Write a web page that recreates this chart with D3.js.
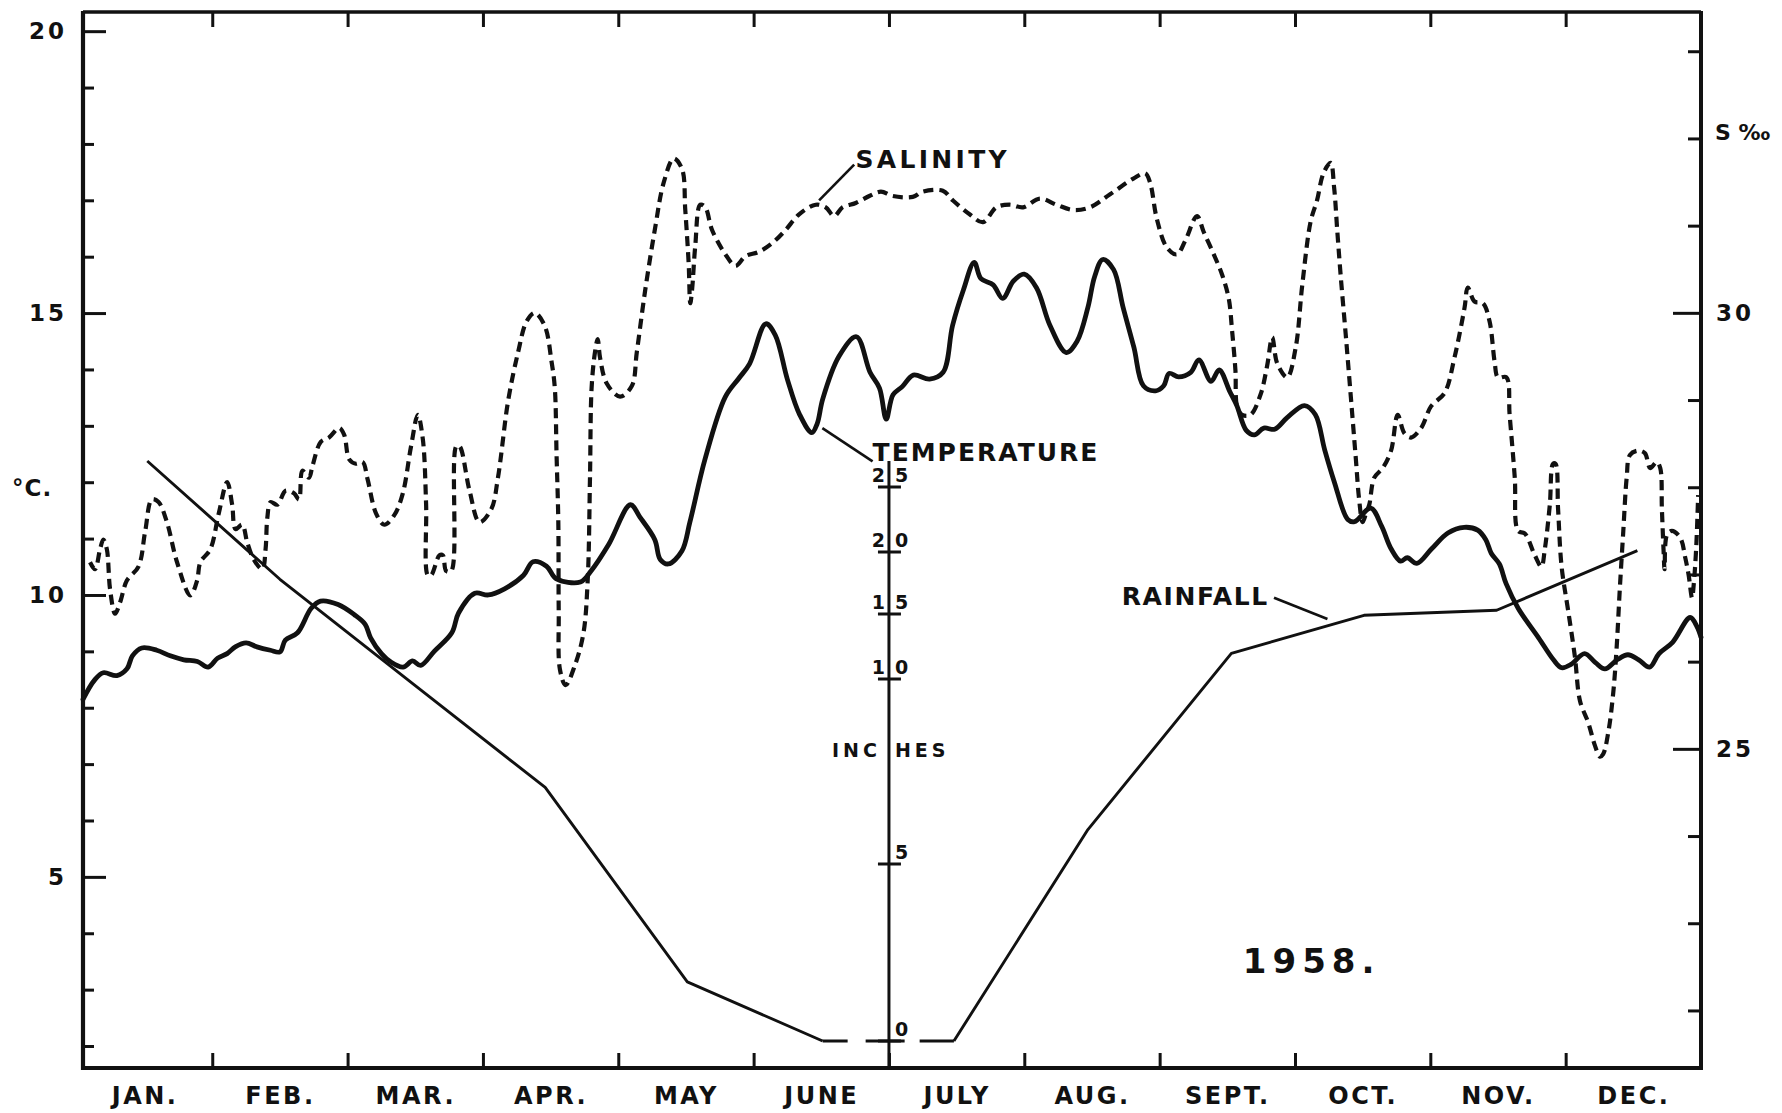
<!DOCTYPE html>
<html><head><meta charset="utf-8">
<script src="https://cdn.jsdelivr.net/npm/d3@7"></script>
<style>
body{margin:0;background:#fff}
svg{display:block;background:#fff}
text{font-family:"DejaVu Sans",sans-serif;font-weight:bold;fill:#111}
</style>
</head><body><svg id="chart" width="1782" height="1113"></svg>
<script>
// ---------------- DATA ----------------
const months = ["JAN.","FEB.","MAR.","APR.","MAY","JUNE","JULY","AUG.","SEPT.","OCT.","NOV.","DEC."];
const monthBoundaries = [1,2,3,4,5,6,7,8,9,10,11];
const tempMinorTicks = [2,3,4,6,7,8,9,11,12,13,14,16,17,18,19];
const tempMajorTicks = [5,10,15,20];
const salMinorTicks = [22,23,24,26,27,28,29,31,32,33];
const salMajorTicks = [25,30];
const rainTicks = [0,5,10,15,20,25];

// temperature (°C) : [month position, value]
const temperature = [
[0.045,8.15],[0.13,8.49],[0.195,8.62],[0.295,8.57],[0.37,8.69],[0.41,8.92],[0.48,9.06],[0.59,9.02],[0.69,8.92],[0.79,8.85],
[0.89,8.82],[0.97,8.72],[1.04,8.88],[1.11,8.96],[1.17,9.08],[1.25,9.15],[1.33,9.08],[1.43,9.02],[1.50,8.99],[1.54,9.2],
[1.63,9.33],[1.73,9.76],[1.80,9.89],[1.93,9.83],[2.05,9.65],[2.13,9.48],[2.17,9.24],[2.25,8.96],[2.32,8.81],[2.41,8.72],
[2.48,8.83],[2.54,8.75],[2.64,9.0],[2.77,9.33],[2.82,9.68],[2.94,10.03],[3.04,10.0],[3.16,10.11],[3.30,10.35],[3.37,10.59],
[3.47,10.51],[3.54,10.29],[3.72,10.23],[3.80,10.43],[3.93,10.9],[4.09,11.6],[4.16,11.38],[4.27,10.98],[4.31,10.63],[4.37,10.55],
[4.47,10.78],[4.53,11.3],[4.64,12.4],[4.79,13.51],[4.89,13.84],[4.97,14.1],[5.09,14.81],[5.16,14.61],[5.25,13.82],[5.34,13.2],
[5.43,12.88],[5.47,13.04],[5.51,13.47],[5.63,14.23],[5.76,14.58],[5.86,13.95],[5.93,13.67],[5.98,13.12],[6.03,13.55],[6.10,13.7],
[6.18,13.9],[6.30,13.83],[6.40,13.95],[6.47,14.78],[6.55,15.41],[6.63,15.9],[6.68,15.61],[6.77,15.5],[6.84,15.26],[6.92,15.57],
[7.00,15.69],[7.09,15.45],[7.19,14.78],[7.31,14.3],[7.39,14.5],[7.47,15.1],[7.52,15.65],[7.58,15.95],[7.66,15.77],[7.73,15.1],
[7.81,14.39],[7.88,13.71],[7.97,13.62],[8.03,13.71],[8.07,13.93],[8.14,13.87],[8.23,13.95],[8.29,14.17],[8.38,13.79],[8.44,13.99],
[8.52,13.6],[8.57,13.36],[8.64,12.92],[8.70,12.84],[8.77,12.96],[8.85,12.94],[8.94,13.14],[9.07,13.36],[9.15,13.2],[9.22,12.57],
[9.29,12.01],[9.39,11.34],[9.44,11.3],[9.56,11.54],[9.64,11.22],[9.71,10.82],[9.78,10.6],[9.83,10.66],[9.90,10.56],[10.01,10.82],
[10.13,11.1],[10.25,11.2],[10.35,11.15],[10.41,10.98],[10.45,10.74],[10.51,10.55],[10.56,10.2],[10.65,9.76],[10.80,9.24],[10.91,8.85],
[10.97,8.71],[11.04,8.77],[11.14,8.96],[11.22,8.8],[11.29,8.69],[11.38,8.85],[11.46,8.94],[11.54,8.85],[11.62,8.72],[11.69,8.96],
[11.79,9.16],[11.92,9.6],[11.97,9.44],[12.0,9.25]
];

// salinity (S ‰) : [month position, value]
const salinity = [
[0.097,27.14],[0.134,27.06],[0.171,27.29],[0.195,27.4],[0.221,27.29],[0.245,26.83],[0.282,26.55],[0.319,26.68],[0.369,26.93],[0.455,27.09],
[0.505,27.5],[0.554,27.86],[0.603,27.83],[0.665,27.6],[0.74,27.14],[0.838,26.76],[0.888,26.93],[0.912,27.14],[0.986,27.29],[1.048,27.7],
[1.11,28.06],[1.147,27.8],[1.172,27.52],[1.221,27.57],[1.258,27.37],[1.307,27.17],[1.37,27.06],[1.394,27.29],[1.407,27.65],[1.431,27.83],
[1.481,27.8],[1.542,27.96],[1.604,27.93],[1.641,27.86],[1.666,28.19],[1.715,28.11],[1.74,28.24],[1.802,28.52],[1.863,28.57],[1.938,28.68],
[1.975,28.6],[2.012,28.32],[2.061,28.27],[2.111,28.29],[2.148,28.09],[2.21,27.7],[2.271,27.57],[2.345,27.68],[2.408,27.93],[2.469,28.47],
[2.519,28.83],[2.556,28.55],[2.58,27.81],[2.593,26.99],[2.617,26.99],[2.679,27.22],[2.704,27.22],[2.728,27.04],[2.766,27.04],[2.803,28.47],
[2.827,28.47],[2.901,27.96],[2.975,27.6],[3.062,27.75],[3.111,28.11],[3.186,28.99],[3.26,29.55],[3.322,29.9],[3.383,30.0],[3.457,29.85],
[3.507,29.44],[3.531,29.14],[3.544,28.37],[3.557,27.6],[3.56,26.58],[3.569,25.91],[3.611,25.73],[3.68,25.96],[3.742,26.32],[3.774,26.93],
[3.791,28.11],[3.803,29.14],[3.828,29.55],[3.848,29.7],[3.865,29.49],[3.915,29.19],[4.013,29.04],[4.1,29.16],[4.137,29.55],[4.199,30.26],
[4.273,30.98],[4.335,31.49],[4.409,31.77],[4.471,31.65],[4.495,31.18],[4.52,30.57],[4.532,30.11],[4.545,30.26],[4.569,30.77],[4.606,31.24],
[4.643,31.21],[4.693,30.95],[4.792,30.67],[4.866,30.54],[4.94,30.65],[5.039,30.7],[5.138,30.8],[5.236,30.95],[5.336,31.13],[5.459,31.24],
[5.533,31.21],[5.595,31.11],[5.657,31.21],[5.755,31.26],[5.855,31.34],[5.941,31.39],[6.027,31.34],[6.176,31.33],[6.25,31.39],[6.398,31.4],
[6.472,31.29],[6.596,31.13],[6.695,31.04],[6.793,31.21],[6.892,31.24],[6.991,31.21],[7.115,31.31],[7.238,31.24],[7.362,31.18],[7.485,31.21],
[7.634,31.36],[7.806,31.54],[7.893,31.6],[7.93,31.49],[7.979,31.08],[8.053,30.75],[8.127,30.67],[8.19,30.83],[8.276,31.11],[8.325,30.93],
[8.4,30.67],[8.461,30.44],[8.511,30.16],[8.535,29.8],[8.56,29.34],[8.572,28.93],[8.609,28.83],[8.671,28.83],[8.745,29.06],[8.794,29.39],
[8.832,29.72],[8.869,29.42],[8.943,29.26],[9.005,29.6],[9.054,30.32],[9.116,31.05],[9.163,31.29],[9.21,31.6],[9.263,31.72],[9.289,31.44],
[9.313,30.93],[9.338,30.42],[9.375,29.75],[9.413,29.03],[9.45,28.32],[9.474,27.86],[9.5,27.6],[9.525,27.7],[9.549,27.8],[9.586,28.11],
[9.648,28.22],[9.71,28.42],[9.759,28.83],[9.808,28.62],[9.858,28.57],[9.932,28.68],[10.006,28.93],[10.105,29.08],[10.179,29.49],[10.253,30.06],
[10.277,30.29],[10.327,30.13],[10.389,30.11],[10.438,29.9],[10.475,29.44],[10.5,29.26],[10.562,29.26],[10.586,28.83],[10.624,28.11],[10.648,27.5],
[10.698,27.47],[10.772,27.22],[10.821,27.09],[10.846,27.29],[10.883,27.8],[10.907,28.27],[10.925,28.27],[10.944,27.75],[10.97,27.09],[11.019,26.58],
[11.068,26.06],[11.106,25.55],[11.167,25.3],[11.216,25.04],[11.253,24.91],[11.277,24.94],[11.315,25.19],[11.352,25.65],[11.377,26.17],[11.4,26.83],
[11.426,27.5],[11.451,28.11],[11.475,28.37],[11.537,28.42],[11.586,28.39],[11.624,28.22],[11.673,28.29],[11.699,28.22],[11.711,27.75],[11.723,27.29],
[11.731,27.06],[11.748,27.45],[11.785,27.5],[11.847,27.42],[11.884,27.19],[11.909,26.99],[11.934,26.73],[11.946,26.88],[11.964,27.29],[11.979,27.91]
];

// monthly rainfall (inches scale) at mid-month
const rainMonth  = [0.52, 1.50, 2.50, 3.46, 4.51, 5.51, 6.48, 7.47, 8.53, 9.51, 10.49, 11.53];
const rainInches = [27.0, 17.8, 9.82, 7.07, 1.67, 0,    0,    5.93, 11.97, 14.9, 15.3, 20.1];

// ---------------- LAYOUT / SCALES ----------------
const svg = d3.select("#chart");
const L = 83, R = 1701, T = 12, B = 1068;
const x  = d3.scaleLinear().domain([0.045, 12]).range([L, R]);
const yT = d3.scaleLinear().domain([1.61, 20.34]).range([B, T]);
const yS = d3.scaleLinear().domain([21.34, 33.45]).range([B, T]);
const yR = d3.scaleLinear().domain(rainTicks).range([1041, 864, 679, 614, 552, 487]);

const ink = "#111";

// ---------------- AXES ----------------
function styleAxis(g, fontSize, ls){
  g.attr("font-family", null).attr("font-size", null);
  g.select(".domain").remove();
  g.selectAll("line").attr("stroke", ink).attr("stroke-width", 3);
  g.selectAll("text").attr("fill", ink).style("font-size", fontSize+"px")
   .style("font-family", '"DejaVu Sans", sans-serif').style("font-weight","bold")
   .style("letter-spacing", ls+"px");
}

// left (temperature)
svg.append("g").attr("transform",`translate(${L},0)`)
  .call(d3.axisLeft(yT).tickValues(tempMinorTicks).tickSize(-11).tickFormat(""))
  .call(g=>styleAxis(g,20,0));
svg.append("g").attr("transform",`translate(${L},0)`)
  .call(d3.axisLeft(yT).tickValues(tempMajorTicks).tickSize(-23).tickPadding(16).tickFormat(d3.format("d")))
  .call(g=>styleAxis(g,23,3));

// right (salinity)
svg.append("g").attr("transform",`translate(${R},0)`)
  .call(d3.axisRight(yS).tickValues(salMinorTicks).tickSize(-13).tickFormat(""))
  .call(g=>styleAxis(g,20,0));
svg.append("g").attr("transform",`translate(${R},0)`)
  .call(d3.axisRight(yS).tickValues(salMajorTicks).tickSize(-28).tickPadding(15).tickFormat(d3.format("d")))
  .call(g=>styleAxis(g,23,3));

// bottom & top month ticks
svg.append("g").attr("transform",`translate(0,${B})`)
  .call(d3.axisBottom(x).tickValues(monthBoundaries).tickSize(-15).tickFormat(""))
  .call(g=>styleAxis(g,20,0));
svg.append("g").attr("transform",`translate(0,${T})`)
  .call(d3.axisTop(x).tickValues(monthBoundaries).tickSize(-15).tickFormat(""))
  .call(g=>styleAxis(g,20,0));
svg.append("g").attr("transform",`translate(0,${B})`)
  .call(d3.axisBottom(x).tickValues(months.map((m,i)=>i+0.5)).tickSize(0).tickPadding(19)
        .tickFormat((d,i)=>months[i]))
  .call(g=>styleAxis(g,24,2.5));

// frame
svg.append("path").attr("d",`M${L},${T}H${R}`).attr("stroke",ink).attr("stroke-width",3.5);
svg.append("path").attr("d",`M${L},${B}H${R}`).attr("stroke",ink).attr("stroke-width",4);
svg.append("path").attr("d",`M${L},${T-1}V${B+2}`).attr("stroke",ink).attr("stroke-width",4.2);
svg.append("path").attr("d",`M${R},${T-1}V${B+2}`).attr("stroke",ink).attr("stroke-width",4);

// central rainfall (inches) axis
const xr = x(6);
svg.append("line").attr("x1",xr).attr("x2",xr).attr("y1",yR(27)).attr("y2",B)
  .attr("stroke",ink).attr("stroke-width",3);
const rg = svg.append("g");
rg.selectAll("line.rt").data(rainTicks).join("line").attr("class","rt")
  .attr("x1",xr-11).attr("x2",xr+12).attr("y1",d=>yR(d)).attr("y2",d=>yR(d))
  .attr("stroke",ink).attr("stroke-width",3);
rg.selectAll("text.rl").data(rainTicks).join("text").attr("class","rl")
  .attr("x",xr+6).attr("y",d=>yR(d)-5).style("font-size","19px")
  .text(d=>String(d%10));
rg.selectAll("text.rlt").data(rainTicks.filter(d=>d>=10)).join("text").attr("class","rlt")
  .attr("x",xr-4).attr("y",d=>yR(d)-5).attr("text-anchor","end").style("font-size","19px")
  .text(d=>String(Math.floor(d/10)));
// INCHES label split by axis
svg.append("text").attr("x",xr-8).attr("y",yR(7.9)).attr("text-anchor","end")
  .style("font-size","19px").style("letter-spacing","4px").text("INC");
svg.append("text").attr("x",xr+6).attr("y",yR(7.9))
  .style("font-size","19px").style("letter-spacing","4px").text("HES");

// ---------------- SERIES ----------------
const curve = d3.curveCatmullRom.alpha(0.5);

// rainfall
const rainPts = rainMonth.map((m,i)=>[m, rainInches[i]]);
const rainLine = d3.line().x(d=>x(d[0])).y(d=>yR(d[1]));
svg.append("path").attr("d", rainLine(rainPts.slice(0,6)))
  .attr("fill","none").attr("stroke",ink).attr("stroke-width",2.9).attr("stroke-linejoin","round");
svg.append("path").attr("d", rainLine(rainPts.slice(5,7)))
  .attr("fill","none").attr("stroke",ink).attr("stroke-width",2.9).attr("stroke-dasharray","25,18,39,15,40");
svg.append("path").attr("d", rainLine(rainPts.slice(6)))
  .attr("fill","none").attr("stroke",ink).attr("stroke-width",2.9).attr("stroke-linejoin","round");

// salinity (dashed)
svg.append("path")
  .attr("d", d3.line().x(d=>x(d[0])).y(d=>yS(d[1])).curve(curve)(salinity))
  .attr("fill","none").attr("stroke",ink).attr("stroke-width",4.2)
  .attr("stroke-dasharray","10,6");

// temperature (solid)
svg.append("path")
  .attr("d", d3.line().x(d=>x(d[0])).y(d=>yT(d[1])).curve(curve)(temperature))
  .attr("fill","none").attr("stroke",ink).attr("stroke-width",4.8)
  .attr("stroke-linejoin","round").attr("stroke-linecap","round");

// ---------------- ANNOTATIONS ----------------
function leader(p0, p1){
  svg.append("line").attr("x1",p0[0]).attr("y1",p0[1]).attr("x2",p1[0]).attr("y2",p1[1])
    .attr("stroke",ink).attr("stroke-width",2.6);
}
// SALINITY
leader([x(5.484), yS(31.29)], [x(5.743), yS(31.70)]);
svg.append("text").attr("x",x(5.753)).attr("y",yS(31.66))
  .style("font-size","25px").style("letter-spacing","3.3px").text("SALINITY");
// TEMPERATURE
leader([x(5.508), yT(12.96)], [x(5.879), yT(12.37)]);
svg.append("text").attr("x",x(5.879)).attr("y",yT(12.37))
  .style("font-size","25px").style("letter-spacing","2px").text("TEMPERATURE");
// RAINFALL
leader([x(8.845), yR(16.31)], [x(9.24), yR(14.62)]);
svg.append("text").attr("x",x(7.72)).attr("y",yR(15.75))
  .style("font-size","25px").style("letter-spacing","1.6px").text("RAINFALL");
// year
svg.append("text").attr("x",x(8.615)).attr("y",yT(3.3))
  .style("font-size","34px").style("letter-spacing","6px").text("1958.");
// unit labels
svg.append("text").attr("x",12).attr("y",yT(11.75)).style("font-size","23px").style("letter-spacing","1px").text("°C.");
svg.append("text").attr("x",R+14).attr("y",yS(31.98)).style("font-size","22px").style("letter-spacing","0px").text("S ‰");
</script>
</body></html>
